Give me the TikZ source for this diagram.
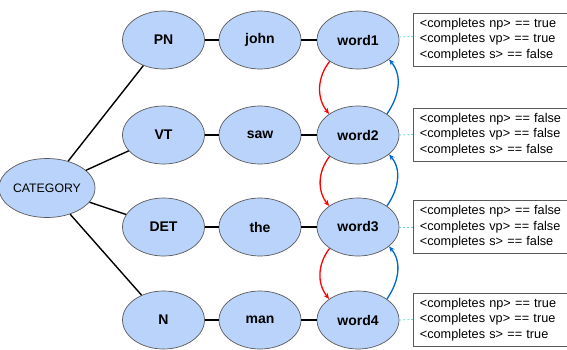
\documentclass[tikz,border=0pt]{standalone}
\usepackage{fontspec}
\setmainfont{Liberation Sans}
\usetikzlibrary{shapes.geometric,arrows.meta}
\definecolor{nodefill}{RGB}{186,211,251}
\definecolor{nodeedge}{RGB}{90,90,90}
\definecolor{redarr}{RGB}{255,0,0}
\definecolor{bluearr}{RGB}{0,102,204}
\definecolor{teal2}{RGB}{90,215,195}
\tikzset{
  x=1pt,y=1pt,
  ell/.style={ellipse,draw=nodeedge,line width=0.7pt,fill=nodefill,minimum width=82pt,minimum height=58pt,inner sep=0pt,font=\fontsize{14}{16}\selectfont\bfseries},
  catell/.style={ell,minimum width=83pt,minimum height=59pt,font=\fontsize{12.3}{14}\selectfont},
  link/.style={line width=1.4pt,black},
  infobox/.style={draw=nodeedge,line width=0.7pt,fill=white,anchor=west,text width=170pt,align=left,inner xsep=6.5pt,minimum height=53pt,font=\fontsize{12.7}{15.5}\selectfont},
  dlink/.style={teal2,dash pattern=on 2pt off 2pt,line width=0.8pt},
  downarr/.style={redarr,line width=1.3pt,-{Stealth[length=6pt,width=5pt]}},
  uparr/.style={bluearr,line width=1.3pt,-{Stealth[length=6pt,width=5pt]}}
}
\begin{document}
\begin{tikzpicture}
\useasboundingbox (0,0) rectangle (567,349);
\clip (0,0) rectangle (567,349);
\node[catell] (cat) at (47,161) {CATEGORY};
\node[ell] (pn) at (163.5,309) {PN};
\node[ell] (vt) at (163.5,214) {VT};
\node[ell] (det) at (163.5,122) {DET};
\node[ell] (n) at (163.5,29) {N};
\node[ell] (john) at (260,309) {john};
\node[ell] (saw) at (260,214) {saw};
\node[ell] (the) at (260,122) {the};
\node[ell] (man) at (260,29) {man};
\node[ell] (w1) at (358,309) {word1};
\node[ell] (w2) at (358,214) {word2};
\node[ell] (w3) at (358,122) {word3};
\node[ell] (w4) at (358,29) {word4};
\draw[link] (cat) -- (pn);
\draw[link] (cat) -- (vt);
\draw[link] (cat) -- (det);
\draw[link] (cat) -- (n);
\draw[link] (pn) -- (john);
\draw[link] (john) -- (w1);
\draw[link] (vt) -- (saw);
\draw[link] (saw) -- (w2);
\draw[link] (det) -- (the);
\draw[link] (the) -- (w3);
\draw[link] (n) -- (man);
\draw[link] (man) -- (w4);
\node[infobox] (b1) at (413,309.5) {<completes np> == true\\<completes vp> == true\\<completes s> == false};
\node[infobox] (b2) at (413,214.5) {<completes np> == false\\<completes vp> == false\\<completes s> == false};
\node[infobox] (b3) at (413,122) {<completes np> == false\\<completes vp> == false\\<completes s> == false};
\node[infobox] (b4) at (413,29.5) {<completes np> == true\\<completes vp> == true\\<completes s> == true};
\draw[dlink] ([yshift=3pt]w1.east) -- ([yshift=3pt]b1.west);
\draw[dlink] (w2.east) -- (b2.west);
\draw[dlink] (w3.east) -- (b3.west);
\draw[dlink] (w4.east) -- (b4.west);
\draw[downarr] (w1.217) to[out=232,in=128] (w2.144);
\draw[downarr] (w2.217) to[out=232,in=128] (w3.144);
\draw[downarr] (w3.217) to[out=232,in=128] (w4.144);
\draw[uparr] (w2.36) to[out=55,in=-50] (w1.-32);
\draw[uparr] (w3.36) to[out=55,in=-50] (w2.-32);
\draw[uparr] (w4.36) to[out=55,in=-50] (w3.-32);
\end{tikzpicture}
\end{document}
